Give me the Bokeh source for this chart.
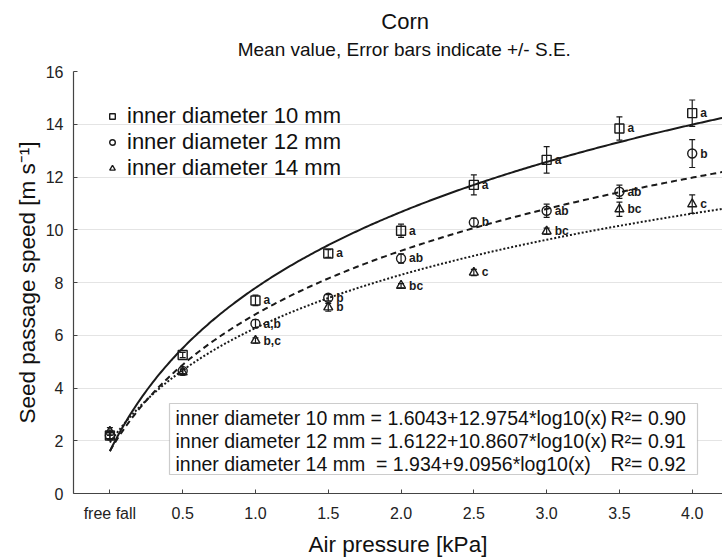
import numpy as np
from bokeh.plotting import figure
from bokeh.layouts import column
from bokeh.models import (ColumnDataSource, Whisker, TeeHead, Label, BoxAnnotation,
                          Legend, LegendItem, FixedTicker, Range1d)
from bokeh.core.properties import value
from bokeh.embed import file_html
from bokeh.resources import INLINE

# ---------------- data ----------------
x_pos = [1, 2, 3, 4, 5, 6, 7, 8, 9]
x_labels = ["free fall", "0.5", "1.0", "1.5", "2.0", "2.5", "3.0", "3.5", "4.0"]

mean_10 = [2.2, 5.25, 7.32, 9.1, 9.96, 11.7, 12.65, 13.84, 14.42]
se_10 = [0.15, 0.1, 0.2, 0.15, 0.25, 0.38, 0.5, 0.44, 0.5]
mean_12 = [2.2, 4.65, 6.44, 7.42, 8.91, 10.28, 10.72, 11.44, 12.89]
se_12 = [0.12, 0.1, 0.15, 0.12, 0.18, 0.16, 0.25, 0.25, 0.53]
mean_14 = [2.35, 4.6, 5.8, 7.06, 7.88, 8.38, 9.94, 10.78, 10.97]
se_14 = [0.15, 0.1, 0.1, 0.15, 0.08, 0.12, 0.12, 0.27, 0.35]

letters_10 = ["", "", "a", "a", "a", "a", "a", "a", "a"]
letters_12 = ["", "", "a,b", "b", "ab", "b", "ab", "ab", "b"]
letters_14 = ["", "", "b,c", "b", "bc", "c", "bc", "bc", "c"]

# fitted regression y = a + b*log10(x)
fit_a = [1.6043, 1.6122, 1.934]
fit_b = [12.9754, 10.8607, 9.0956]
fit_r2 = ["0.90", "0.91", "0.92"]
eq_texts = [
    "inner diameter 10 mm = 1.6043+12.9754*log10(x)",
    "inner diameter 12 mm = 1.6122+10.8607*log10(x)",
    "inner diameter 14 mm \u00a0= 1.934+9.0956*log10(x)",
]
series_names = ["inner diameter 10 mm", "inner diameter 12 mm", "inner diameter 14 mm"]
title_text = "Corn"
subtitle_text = "Mean value, Error bars indicate +/- S.E."

FONT = "Liberation Sans"
INK = "#1a1a1a"

W = 722
TOP_H = 62
x_start, x_end = 0.5, 9.416

# ---------------- title strip ----------------
t = figure(width=W, height=TOP_H, output_backend="svg", toolbar_location=None,
           x_range=Range1d(0, W), y_range=Range1d(0, TOP_H),
           x_axis_location=None, y_axis_location=None,
           min_border=0, min_border_left=0, min_border_right=0,
           min_border_top=0, min_border_bottom=0)
t.grid.visible = False
t.outline_line_color = None
t.add_layout(Label(x=369, y=41, text=title_text, text_font=FONT, text_font_size="22px",
                   text_color="#111111", text_align="center", text_baseline="middle"))
t.add_layout(Label(x=368, y=13.5, text=subtitle_text, text_font=FONT,
                   text_font_size="19px", text_color="#111111",
                   text_align="center", text_baseline="middle"))

# ---------------- main plot ----------------
p = figure(width=W, height=559 - TOP_H, output_backend="svg", toolbar_location=None,
           x_range=Range1d(x_start, x_end), y_range=Range1d(0, 16),
           min_border_left=73, min_border_right=0, min_border_top=9, min_border_bottom=66)
p.outline_line_color = None
p.background_fill_color = "white"
p.border_fill_color = "white"

p.xaxis.ticker = FixedTicker(ticks=x_pos)
p.xaxis.major_label_overrides = {x: lab for x, lab in zip(x_pos, x_labels)}
p.yaxis.ticker = FixedTicker(ticks=[0, 2, 4, 6, 8, 10, 12, 14, 16])
for ax in (p.xaxis, p.yaxis):
    ax.axis_line_color = "#444444"
    ax.axis_line_width = 1.2
    ax.major_tick_line_color = "#444444"
    ax.major_tick_in = 4
    ax.major_tick_out = 0
    ax.minor_tick_line_color = None
    ax.major_label_text_font = FONT
    ax.major_label_text_font_size = "16px"
    ax.major_label_text_color = "#222222"
    ax.axis_label_text_font = FONT
    ax.axis_label_text_font_size = "22.5px"
    ax.axis_label_text_font_style = "normal"
    ax.axis_label_text_color = "#111111"
p.xaxis.major_label_standoff = 11
p.yaxis.major_label_standoff = 10
p.xaxis.axis_label_standoff = 7
p.yaxis.axis_label_standoff = 3
p.xaxis.axis_label = "Air pressure [kPa]"
p.yaxis.axis_label = "Seed passage speed [m s\u207b\u00b9]"
p.xgrid.grid_line_color = None
p.ygrid.grid_line_color = "#e4e4e4"

# fitted curves
xs = np.linspace(1, x_end, 300)
dashes = ["solid", "6 4", "2 2"]
for a, b, d in zip(fit_a, fit_b, dashes):
    p.line(xs, a + b * np.log10(xs), line_color=INK, line_width=2, line_dash=d)

# points with error bars
markers = ["square", "circle", "triangle"]
means = [mean_10, mean_12, mean_14]
ses = [se_10, se_12, se_14]
letters = [letters_10, letters_12, letters_14]
legend_items = []
for name, m, s, mk, lt in zip(series_names, means, ses, markers, letters):
    src = ColumnDataSource(dict(
        x=x_pos, y=m,
        upper=[v + e for v, e in zip(m, s)],
        lower=[v - e for v, e in zip(m, s)],
        lab=lt))
    p.add_layout(Whisker(source=src, base="x", upper="upper", lower="lower",
                         line_color=INK, line_width=1.2,
                         upper_head=TeeHead(size=6, line_color=INK, line_width=1.2),
                         lower_head=TeeHead(size=6, line_color=INK, line_width=1.2)))
    r = p.scatter("x", "y", source=src, marker=mk, size=9, line_color=INK,
                  line_width=1.4, fill_alpha=0)
    p.text("x", "y", text="lab", source=src, x_offset=8, text_baseline="middle",
           text_align="left", text_font=value(FONT), text_font_size="12px",
           text_font_style="bold", text_color=INK)
    legend_items.append(LegendItem(label=name, renderers=[r]))

legend = Legend(items=legend_items, location="top_left", margin=0, padding=32,
                glyph_width=14, glyph_height=20, label_height=20, label_standoff=8,
                spacing=-1, label_text_font=FONT, label_text_font_size="22px",
                label_text_color="#111111", background_fill_alpha=0, border_line_alpha=0)
p.add_layout(legend)

# equation box (screen units, relative to frame)
p.add_layout(BoxAnnotation(left=96, right=624, top=90, bottom=19,
                           left_units="screen", right_units="screen",
                           top_units="screen", bottom_units="screen",
                           fill_color="white", fill_alpha=1,
                           line_color="#555555", line_width=1.2))
for i, (eq, r2) in enumerate(zip(eq_texts, fit_r2)):
    yy = 76 - 23 * i
    p.add_layout(Label(x=102, y=yy, x_units="screen", y_units="screen", text=eq,
                       text_font=FONT, text_font_size="19.5px", text_color="#111111",
                       text_baseline="middle", text_align="left"))
    p.add_layout(Label(x=537, y=yy, x_units="screen", y_units="screen",
                       text="R\u00b2= " + r2,
                       text_font=FONT, text_font_size="19.5px", text_color="#111111",
                       text_baseline="middle", text_align="left"))

layout = column(t, p, spacing=0)
open("out.html", "w").write(file_html(layout, INLINE))
